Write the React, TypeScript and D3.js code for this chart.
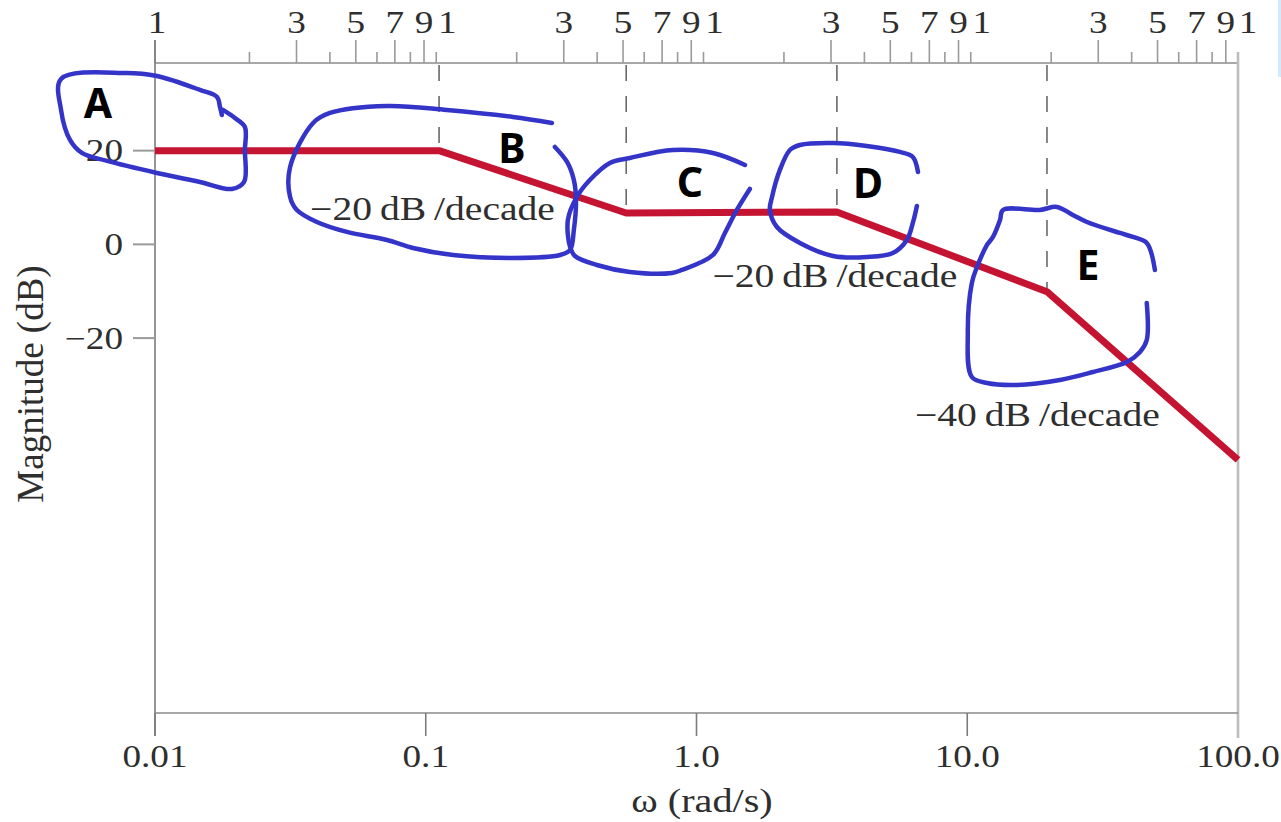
import React from 'react';
import * as d3 from 'd3';

// ---- Bode magnitude asymptote ----
const omegaBreaks = [0.01, 0.112, 0.55, 3.3, 19.7, 100];
const magnitudeDb = [20, 20, 6.7, 6.9, -10.1, -46];
const cornerOmegas = [0.112, 0.55, 3.3, 19.7];
const cornerDb = [20, 6.7, 6.9, -10.1];

// ---- axes ----
const bottomTickValues = [0.01, 0.1, 1, 10, 100];
const bottomTickLabels = ['0.01', '0.1', '1.0', '10.0', '100.0'];
const yTickValues = [20, 0, -20];
const yTickLabels = ['20', '0', '\u221220'];
const topDecades = [0.01, 0.1, 1, 10];
const topMantissas = [1, 2, 3, 4, 5, 6, 7, 8, 9];
const topLabelMantissas = [3, 5, 7, 9];

// ---- slope annotations: [log10 ω, dB] ----
const slopeTexts = ['\u221220\u2009dB\u2009/decade', '\u221220\u2009dB\u2009/decade', '\u221240\u2009dB\u2009/decade'];
const slopeAnchors = [[-0.975, 5.21], [0.511, -9.09], [1.259, -38.75]];

// ---- hand-drawn blue markup: [log10 ω, dB] ----
const markLetters = ['A', 'B', 'C', 'D', 'E'];
const markLetterAnchors = [[-2.211, 26.97], [-0.682, 17.37], [-0.024, 10.12], [0.633, 9.9], [1.446, -7.6]];
const loopA = [[-1.753, 27.61], [-1.76, 29.32], [-1.771, 31.46], [-1.834, 32.95], [-1.993, 35.94], [-2.107, 36.58], [-2.347, 35.3], [-2.347, 28.68], [-2.314, 22.28], [-2.27, 19.5], [-2.177, 17.8], [-1.993, 15.24], [-1.834, 13.32], [-1.716, 11.82], [-1.671, 13.32], [-1.668, 20.14], [-1.668, 25.05], [-1.705, 26.97], [-1.749, 28.68]];
const loopB = [[-0.534, 25.91], [-0.678, 27.19], [-0.922, 28.68], [-1.143, 29.53], [-1.354, 28.04], [-1.416, 25.91], [-1.501, 16.52], [-1.501, 10.12], [-1.476, 7.34], [-1.402, 4.78], [-1.291, 2.65], [-1.143, 0.94], [-1.047, -0.77], [-0.899, -2.26], [-0.678, -2.9], [-0.504, -2.26], [-0.467, -1.2], [-0.453, 3.07], [-0.445, 9.47], [-0.453, 13.74], [-0.478, 17.58], [-0.523, 20.79]];
const loopC = [[0.179, 16.94], [0.061, 19.5], [-0.087, 20.14], [-0.246, 18.44], [-0.32, 17.37], [-0.394, 13.74], [-0.442, 10.12], [-0.475, 5.21], [-0.467, -0.55], [-0.449, -2.48], [-0.368, -4.4], [-0.246, -5.89], [-0.091, -6.1], [-0.054, -5.46], [0.061, -2.26], [0.105, 2.43], [0.149, 7.34], [0.197, 11.82]];
const loopD = [[0.818, 15.45], [0.799, 18.65], [0.751, 19.72], [0.629, 21.0], [0.504, 21.64], [0.382, 21.21], [0.345, 20.14], [0.308, 15.88], [0.279, 10.12], [0.271, 7.34], [0.297, 3.71], [0.382, 0.3], [0.504, -2.48], [0.629, -2.69], [0.725, -1.84], [0.777, 0.94], [0.799, 4.57], [0.814, 8.19]];
const loopE = [[1.693, -5.46], [1.663, 0.3], [1.612, 1.58], [1.564, 2.43], [1.442, 4.78], [1.39, 6.27], [1.331, 7.98], [1.268, 7.34], [1.132, 7.34], [1.121, 5.21], [1.095, 1.58], [1.073, -0.13], [1.036, -4.82], [1.017, -8.24], [1.002, -18.91], [1.017, -28.3], [1.073, -29.58], [1.183, -30.0], [1.342, -28.94], [1.464, -27.23], [1.59, -25.1], [1.638, -22.96], [1.663, -20.4], [1.663, -12.51]];
const loops = [loopA, loopB, loopC, loopD, loopE];

const W = 1281;
const H = 822;
const left = 155;
const right = 1238;
const top = 63;
const bottom = 713;

const SERIF = '"Liberation Serif", "Times New Roman", serif';
const TEXT = '#2e2e2e';
const STRETCH = 1.2;

export default function App() {
  const x = d3.scaleLog().domain([0.01, 100]).range([left, right]);
  const xTop = d3.scaleLog().domain([0.01, 100]).range([169, right]);
  const y = d3.scaleLinear().domain([-100, 38.7]).range([bottom, top]);

  const magLine = d3
    .line<number>()
    .x((_, i) => x(omegaBreaks[i]))
    .y((d) => y(d));

  const markLine = d3
    .line<number[]>()
    .x((d) => x(Math.pow(10, d[0])))
    .y((d) => y(d[1]))
    .curve(d3.curveCatmullRom.alpha(0.5));

  // top log-paper ticks
  const topTicks: { v: number; px: number; long: boolean; label: string | null; lx: number }[] = [];
  topDecades.forEach((dec, di) => {
    topMantissas.forEach((m) => {
      const v = dec * m;
      const first = di === 0 && m === 1;
      const px = first ? x(v) : xTop(v);
      const labeled = m === 1 || topLabelMantissas.includes(m);
      topTicks.push({
        v,
        px,
        long: first || topLabelMantissas.includes(m),
        label: labeled ? String(m) : null,
        lx: m === 1 ? px + (first ? 2 : 11) : px,
      });
    });
  });
  topTicks.push({ v: 100, px: xTop(100), long: false, label: '1', lx: xTop(100) + 10 });

  return (
    <svg
      width={W}
      height={H}
      style={{ position: 'absolute', left: 0, top: 0, background: '#fff' }}
    >
      <rect x={0} y={0} width={W} height={H} fill="#fff" />
      <rect x={1278} y={0} width={3} height={77} fill="#d3eafc" />

      {/* top log-paper axis */}
      <line x1={left} x2={right} y1={top} y2={top} stroke="#a8a8a8" strokeWidth={2} />
      {topTicks.map((t, i) => (
        <g key={'tt' + i}>
          <line
            x1={t.px}
            x2={t.px}
            y1={t.long ? 40 : 52}
            y2={top}
            stroke="#9a9a9a"
            strokeWidth={1.6}
          />
          {t.label && (
            <text
              transform={`translate(${t.lx},33) scale(${STRETCH},1)`}
              textAnchor="middle"
              fontFamily={SERIF}
              fontSize={31}
              fill={TEXT}
            >
              {t.label}
            </text>
          )}
        </g>
      ))}

      {/* frame */}
      <line x1={left} x2={left} y1={40} y2={736} stroke="#7c7c7c" strokeWidth={1.6} />
      <line x1={right} x2={right} y1={52} y2={738} stroke="#bdbdbd" strokeWidth={2.6} />
      <line x1={left} x2={right} y1={bottom} y2={bottom} stroke="#8a8a8a" strokeWidth={1.6} />

      {/* bottom axis */}
      {bottomTickValues.map((v, i) => (
        <g key={'bt' + i}>
          {i < bottomTickValues.length - 1 && (
            <line x1={x(v)} x2={x(v)} y1={bottom} y2={736} stroke="#7c7c7c" strokeWidth={1.6} />
          )}
          <text
            transform={`translate(${x(v)},767) scale(${STRETCH},1)`}
            textAnchor="middle"
            fontFamily={SERIF}
            fontSize={31}
            fill={TEXT}
          >
            {bottomTickLabels[i]}
          </text>
        </g>
      ))}
      <text
        transform={`translate(702,812) scale(${STRETCH},1)`}
        textAnchor="middle"
        fontFamily={SERIF}
        fontSize={33.5}
        fill={TEXT}
      >
        {'\u03c9 (rad/s)'}
      </text>

      {/* y axis */}
      {yTickValues.map((v, i) => (
        <g key={'yt' + i}>
          <line x1={133} x2={left} y1={y(v)} y2={y(v)} stroke="#9a9a9a" strokeWidth={2} />
          <text
            transform={`translate(123,${y(v) + 10.5}) scale(${STRETCH},1)`}
            textAnchor="end"
            fontFamily={SERIF}
            fontSize={31}
            fill={TEXT}
          >
            {yTickLabels[i]}
          </text>
        </g>
      ))}
      <text
        transform="translate(43,384) rotate(-90)"
        textAnchor="middle"
        fontFamily={SERIF}
        fontSize={37}
        fill={TEXT}
      >
        Magnitude (dB)
      </text>

      {/* dashed corner guides */}
      {cornerOmegas.map((w, i) => (
        <line
          key={'dg' + i}
          x1={x(w)}
          x2={x(w)}
          y1={top}
          y2={y(cornerDb[i])}
          stroke="#6a6a6a"
          strokeWidth={1.6}
          strokeDasharray="16,15"
          strokeDashoffset={-2}
        />
      ))}

      {/* slope labels */}
      {slopeTexts.map((t, i) => (
        <text
          key={'sl' + i}
          transform={`translate(${x(Math.pow(10, slopeAnchors[i][0]))},${y(slopeAnchors[i][1])}) scale(${STRETCH},1)`}
          textAnchor="middle"
          fontFamily={SERIF}
          fontSize={33}
          fill={TEXT}
        >
          {t}
        </text>
      ))}

      {/* magnitude asymptote */}
      <path
        d={magLine(magnitudeDb) || ''}
        fill="none"
        stroke="#c41432"
        strokeWidth={7}
        strokeLinejoin="round"
      />

      {/* blue markup */}
      {loops.map((pts, i) => (
        <path
          key={'lp' + i}
          d={markLine(pts) || ''}
          fill="none"
          stroke="#3434c8"
          strokeWidth={4.5}
          strokeLinecap="round"
          strokeLinejoin="round"
        />
      ))}
      {markLetters.map((l, i) => (
        <text
          key={'ml' + i}
          x={x(Math.pow(10, markLetterAnchors[i][0]))}
          y={y(markLetterAnchors[i][1])}
          textAnchor="middle"
          fontFamily='"Noto Sans", "Open Sans", sans-serif'
          fontWeight={700}
          fontSize={41}
          fill="#000"
        >
          {l}
        </text>
      ))}
    </svg>
  );
}
